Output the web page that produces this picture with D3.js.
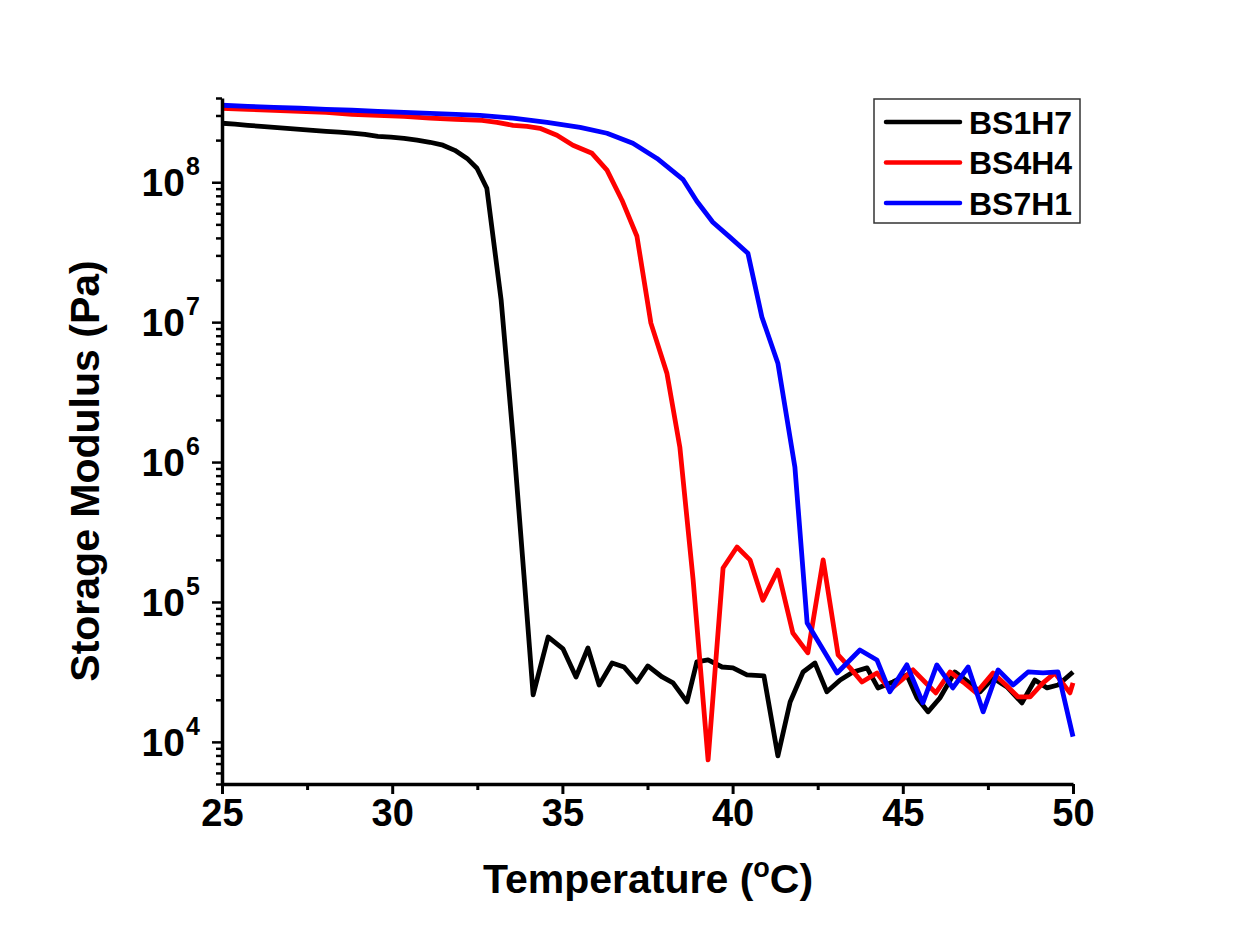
<!DOCTYPE html>
<html>
<head>
<meta charset="utf-8">
<script src="https://cdn.jsdelivr.net/npm/d3@7"></script>
<style>
  html, body { margin: 0; padding: 0; background: #ffffff; }
  svg { display: block; }
  text { font-family: "Liberation Sans", Arial, sans-serif; font-weight: bold; fill: #000; }
</style>
</head>
<body>
<svg id="chart" width="1244" height="940"></svg>
<script>
// ---------------- data ----------------
const seriesNames = ["BS1H7", "BS4H4", "BS7H1"];
const seriesColors = ["#000000", "#ff0000", "#0000ff"];

const tempBS1H7 = [25.00, 25.38, 25.76, 26.15, 26.53, 26.91, 27.29, 27.67, 28.06, 28.44, 28.82, 29.20, 29.58, 29.96, 30.35, 30.73, 31.11, 31.49, 31.84, 32.20, 32.49, 32.78, 33.20, 33.58, 33.87, 34.14, 34.58, 35.02, 35.40, 35.75, 36.08, 36.46, 36.81, 37.19, 37.51, 37.93, 38.25, 38.66, 38.95, 39.28, 39.69, 40.01, 40.42, 40.92, 41.33, 41.69, 42.07, 42.42, 42.77, 43.16, 43.54, 43.95, 44.27, 44.71, 45.12, 45.42, 45.74, 46.09, 46.53, 46.92, 47.27, 47.65, 48.06, 48.50, 48.88, 49.24, 49.56, 50.00];
const modBS1H7 = [2.64e8, 2.60e8, 2.55e8, 2.51e8, 2.47e8, 2.43e8, 2.39e8, 2.35e8, 2.31e8, 2.28e8, 2.24e8, 2.20e8, 2.13e8, 2.10e8, 2.06e8, 2.00e8, 1.93e8, 1.84e8, 1.69e8, 1.48e8, 1.26e8, 9.06e7, 1.44e7, 1.24e6, 1.56e5, 2.17e4, 5.62e4, 4.62e4, 2.91e4, 4.69e4, 2.55e4, 3.66e4, 3.43e4, 2.68e4, 3.49e4, 2.91e4, 2.64e4, 1.93e4, 3.73e4, 3.85e4, 3.43e4, 3.38e4, 3.01e4, 2.96e4, 7.94e3, 1.93e4, 3.16e4, 3.66e4, 2.28e4, 2.77e4, 3.16e4, 3.38e4, 2.43e4, 2.68e4, 3.01e4, 2.06e4, 1.64e4, 2.06e4, 3.16e4, 2.68e4, 2.28e4, 2.86e4, 2.47e4, 1.90e4, 2.77e4, 2.43e4, 2.55e4, 3.16e4];

const tempBS4H4 = [25.00, 25.76, 26.53, 27.29, 28.06, 28.82, 29.58, 30.35, 31.11, 31.87, 32.64, 33.08, 33.55, 33.96, 34.34, 34.84, 35.31, 35.87, 36.31, 36.75, 37.19, 37.60, 38.07, 38.45, 38.84, 39.28, 39.72, 40.13, 40.51, 40.89, 41.33, 41.77, 42.21, 42.66, 43.10, 43.45, 43.80, 44.24, 44.62, 44.97, 45.30, 45.65, 45.97, 46.39, 46.77, 47.16, 47.65, 48.03, 48.38, 48.74, 49.12, 49.47, 49.91, 50.00];
const modBS4H4 = [3.38e8, 3.32e8, 3.27e8, 3.21e8, 3.16e8, 3.06e8, 3.01e8, 2.96e8, 2.87e8, 2.82e8, 2.77e8, 2.68e8, 2.55e8, 2.51e8, 2.43e8, 2.17e8, 1.84e8, 1.61e8, 1.22e8, 7.44e7, 4.11e7, 9.84e6, 4.32e6, 1.28e6, 1.44e5, 7.43e3, 1.75e5, 2.47e5, 2.00e5, 1.03e5, 1.69e5, 6.00e4, 4.33e4, 2.00e5, 4.18e4, 3.38e4, 2.68e4, 3.11e4, 2.35e4, 2.77e4, 3.27e4, 2.68e4, 2.24e4, 3.16e4, 2.68e4, 2.24e4, 3.11e4, 2.55e4, 2.10e4, 2.10e4, 2.64e4, 3.11e4, 2.24e4, 2.64e4];

const tempBS7H1 = [25.00, 25.76, 26.53, 27.29, 28.06, 28.82, 29.58, 30.35, 31.11, 31.87, 32.58, 33.55, 34.55, 35.52, 36.31, 37.07, 37.78, 38.54, 38.95, 39.42, 39.92, 40.45, 40.86, 41.33, 41.83, 42.19, 42.63, 43.07, 43.74, 44.24, 44.62, 45.12, 45.59, 46.00, 46.47, 46.92, 47.36, 47.80, 48.24, 48.68, 49.12, 49.56, 50.00];
const modBS7H1 = [3.55e8, 3.49e8, 3.43e8, 3.38e8, 3.32e8, 3.27e8, 3.21e8, 3.16e8, 3.11e8, 3.06e8, 3.01e8, 2.87e8, 2.68e8, 2.47e8, 2.24e8, 1.90e8, 1.48e8, 1.05e8, 7.31e7, 5.18e7, 4.05e7, 3.11e7, 1.09e7, 5.09e6, 9.20e5, 7.08e4, 4.69e4, 3.11e4, 4.54e4, 3.85e4, 2.28e4, 3.55e4, 1.90e4, 3.55e4, 2.43e4, 3.43e4, 1.64e4, 3.27e4, 2.55e4, 3.16e4, 3.11e4, 3.16e4, 1.09e4];

const xMajorTicks = [25, 30, 35, 40, 45, 50];
const xMinorTicks = [27.5, 32.5, 37.5, 42.5, 47.5];
const yMajorExponents = [4, 5, 6, 7, 8];
const xTitle = "Temperature (";
const yTitle = "Storage Modulus (Pa)";

// ---------------- chart ----------------
const svg = d3.select("#chart");
const x = d3.scaleLinear().domain([25, 50]).range([222, 1073]);
const y = d3.scaleLog().domain([5e3, 4e8]).range([784, 98]);

const series = [
  { name: seriesNames[0], color: seriesColors[0], t: tempBS1H7, g: modBS1H7 },
  { name: seriesNames[1], color: seriesColors[1], t: tempBS4H4, g: modBS4H4 },
  { name: seriesNames[2], color: seriesColors[2], t: tempBS7H1, g: modBS7H1 }
];

const line = d3.line().x(d => x(d[0])).y(d => y(d[1]));
const plot = svg.append("g");
series.forEach(s => {
  plot.append("path")
    .datum(s.t.map((t, i) => [t, s.g[i]]))
    .attr("fill", "none")
    .attr("stroke", s.color)
    .attr("stroke-width", 4.8)
    .attr("stroke-linejoin", "round")
    .attr("d", line);
});

// x axis
const xAxisG = svg.append("g").attr("transform", `translate(0,${y.range()[0]})`);
xAxisG.call(d3.axisBottom(x).tickValues(xMajorTicks).tickSize(10).tickSizeOuter(0).tickFormat(d3.format("d")));
xAxisG.append("g").call(d3.axisBottom(x).tickValues(xMinorTicks).tickSize(6).tickSizeOuter(0).tickFormat(""))
  .select(".domain").remove();
xAxisG.selectAll(".domain").attr("stroke", "#000").attr("stroke-width", 3.5);
xAxisG.selectAll(".tick line").attr("stroke", "#000").attr("stroke-width", 3);
xAxisG.selectAll(".tick text")
  .attr("font-size", 38).attr("font-family", "Liberation Sans, Arial, sans-serif")
  .attr("font-weight", "bold").attr("fill", "#000").attr("dy", "0.71em").attr("y", 15);

// y axis
const minorVals = [];
for (let e = 3; e <= 8; e++) {
  for (let m = 2; m <= 9; m++) {
    const v = m * Math.pow(10, e);
    if (v >= 5e3 && v <= 4e8) minorVals.push(v);
  }
}
const majorVals = yMajorExponents.map(e => Math.pow(10, e));
const yAxisG = svg.append("g").attr("transform", `translate(${x.range()[0]},0)`);
yAxisG.call(d3.axisLeft(y).tickValues(majorVals).tickSize(10).tickSizeOuter(0).tickFormat(""));
yAxisG.append("g").call(d3.axisLeft(y).tickValues(minorVals).tickSize(6).tickSizeOuter(0).tickFormat(""))
  .select(".domain").remove();
yAxisG.selectAll(".domain").attr("stroke", "#000").attr("stroke-width", 3.5);
yAxisG.selectAll(".tick line").attr("stroke", "#000").attr("stroke-width", 2.5);

// y tick labels 10^n
yMajorExponents.forEach(e => {
  svg.append("text")
    .attr("x", 185).attr("y", y(Math.pow(10, e)) + 14)
    .attr("text-anchor", "end")
    .attr("font-size", 39)
    .text("10");
  svg.append("text")
    .attr("x", 186).attr("y", y(Math.pow(10, e)) - 7)
    .attr("text-anchor", "start")
    .attr("font-size", 25)
    .text(String(e));
});

// axis titles
const xt = svg.append("text")
  .attr("x", 648).attr("y", 893)
  .attr("text-anchor", "middle")
  .attr("font-size", 41);
xt.append("tspan").text(xTitle);
xt.append("tspan").attr("font-size", 27).attr("dy", -16).text("o");
xt.append("tspan").attr("dy", 16).text("C)");

svg.append("text")
  .attr("transform", "translate(99,471) rotate(-90)")
  .attr("text-anchor", "middle")
  .attr("font-size", 41)
  .text(yTitle);

// legend
const lg = svg.append("g");
lg.append("rect").attr("x", 874).attr("y", 99).attr("width", 206).attr("height", 124)
  .attr("fill", "#fff").attr("stroke", "#333").attr("stroke-width", 1.5);
series.forEach((s, i) => {
  const yy = 122 + i * 40.5;
  lg.append("line").attr("x1", 886).attr("x2", 960).attr("y1", yy).attr("y2", yy)
    .attr("stroke", s.color).attr("stroke-width", 4.5).attr("stroke-linecap", "round");
  lg.append("text").attr("x", 969).attr("y", yy + 11.5).attr("font-size", 32).text(s.name);
});
</script>
</body>
</html>
